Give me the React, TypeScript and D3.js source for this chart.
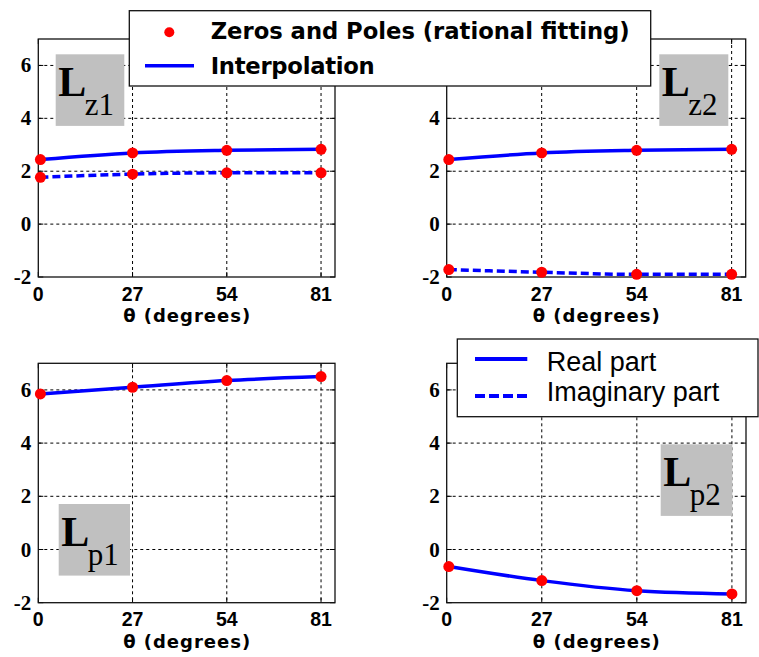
import React from 'react';
import * as d3 from 'd3';

// sample angles (degrees) and the fitted zeros / poles
const theta = [0.6, 27, 54, 81];
const lz1Real = [2.44, 2.69, 2.79, 2.83];
const lz1Imag = [1.77, 1.89, 1.94, 1.94];
const lz2Real = [2.44, 2.69, 2.79, 2.83];
const lz2Imag = [-1.72, -1.82, -1.9, -1.9];
const lp1Real = [5.85, 6.1, 6.35, 6.5];
const lp2Real = [-0.64, -1.17, -1.55, -1.67];

const xTicks = [0, 27, 54, 81];
const yTicks = [-2, 0, 2, 4, 6];
const xDomain = [0, 85];
const yDomain = [-2, 7];

const panels = [
  { name: 'z1', real: lz1Real, imag: lz1Imag, box: [38.3, 39, 335, 277], tag: [55.7, 54.3, 68.6] },
  { name: 'z2', real: lz2Real, imag: lz2Imag, box: [446.7, 39, 745.7, 277], tag: [659.3, 54.3, 69] },
  { name: 'p1', real: lp1Real, imag: null, box: [38.3, 363.3, 335, 602.7], tag: [58.7, 504, 71.3] },
  { name: 'p2', real: lp2Real, imag: null, box: [446.7, 363.3, 746, 602.7], tag: [660.7, 444.3, 71.6] },
];

const BLUE = '#0000ff';
const RED = '#ff0000';
const SANS = '"Liberation Sans", Arial, sans-serif';
const WIDE = '"DejaVu Sans", Verdana, sans-serif';
const SERIF = '"Liberation Serif", "Times New Roman", serif';

const Panel = ({ p }) => {
  const [x0, y0, x1, y1] = p.box;
  const x = d3.scaleLinear().domain(xDomain).range([x0, x1]);
  const y = d3.scaleLinear().domain(yDomain).range([y1, y0]);
  const line = d3.line<number>()
    .x((_, i) => x(theta[i]))
    .y(d => y(d))
    .curve(d3.curveMonotoneX);
  const series = [p.real, p.imag].filter(Boolean);
  return (
    <g>
      {/* grid */}
      {xTicks.filter(t => t > 0).map(t => (
        <line key={'gx' + t} x1={x(t)} x2={x(t)} y1={y0} y2={y1} stroke="#000" strokeWidth={1} strokeDasharray="3,3" />
      ))}
      {yTicks.filter(t => t > -2).map(t => (
        <line key={'gy' + t} x1={x0} x2={x1} y1={y(t)} y2={y(t)} stroke="#000" strokeWidth={1} strokeDasharray="3,3" />
      ))}
      {/* inward ticks on all sides */}
      {xTicks.map(t => (
        <g key={'tx' + t}>
          <line x1={x(t)} x2={x(t)} y1={y1} y2={y1 - 5} stroke="#000" />
          <line x1={x(t)} x2={x(t)} y1={y0} y2={y0 + 5} stroke="#000" />
        </g>
      ))}
      {yTicks.map(t => (
        <g key={'ty' + t}>
          <line x1={x0} x2={x0 + 5} y1={y(t)} y2={y(t)} stroke="#000" />
          <line x1={x1} x2={x1 - 5} y1={y(t)} y2={y(t)} stroke="#000" />
        </g>
      ))}
      <rect x={x0} y={y0} width={x1 - x0} height={y1 - y0} fill="none" stroke="#111" strokeWidth={1.3} />
      {/* tick labels */}
      {xTicks.map(t => (
        <text key={'lx' + t} x={x(t)} y={y1 + 23.5} textAnchor="middle" fontFamily={SANS} fontWeight="bold" fontSize={19.5}>{t}</text>
      ))}
      {yTicks.map(t => (
        <text key={'ly' + t} x={x0 - 7} y={y(t) + 7} textAnchor="end" fontFamily={SERIF} fontWeight="bold" fontSize={21}>{t}</text>
      ))}
      <text x={(x0 + x1) / 2} y={y1 + 45} textAnchor="middle" fontFamily={WIDE} fontWeight="bold" fontSize={18}
        textLength={127} lengthAdjust="spacing">θ (degrees)</text>
      {/* curves */}
      {series.map((s, k) => (
        <path key={'s' + k} d={line(s) || ''} fill="none" stroke={BLUE} strokeWidth={3.5}
          strokeDasharray={k === 1 ? '8,4' : undefined} />
      ))}
      {series.map((s, k) => s.map((v, i) => (
        <circle key={'m' + k + i} cx={x(theta[i])} cy={y(v)} r={5.5} fill={RED} />
      )))}
      {/* gray tag */}
      <rect x={p.tag[0]} y={p.tag[1]} width={p.tag[2]} height={71.6} fill="#c0c0c0" />
      <text x={p.tag[0] + 2.5} y={p.tag[1] + 41.5} fontFamily={SERIF} fontWeight="bold" fontSize={42}>L</text>
      <text x={p.tag[0] + 29} y={p.tag[1] + 60.5} fontFamily={SERIF} fontSize={31}>{p.name}</text>
    </g>
  );
};

export default function App() {
  return (
    <svg width={759} height={657} style={{ position: 'absolute', left: 0, top: 0, background: '#fff' }}>
      <rect width={759} height={657} fill="#fff" />
      {panels.map(p => <Panel key={p.name} p={p} />)}

      {/* legend: markers / interpolation */}
      <rect x={129.3} y={10.7} width={521.4} height={75.3} fill="#fff" stroke="#111" strokeWidth={1.3} />
      <circle cx={169.3} cy={32.3} r={5} fill={RED} />
      <text x={210.7} y={39} fontFamily={WIDE} fontWeight="bold" fontSize={22.7}
        textLength={419} lengthAdjust="spacing">Zeros and Poles (rational fitting)</text>
      <line x1={145} x2={194} y1={65.7} y2={65.7} stroke={BLUE} strokeWidth={3.5} />
      <text x={210.7} y={73.5} fontFamily={WIDE} fontWeight="bold" fontSize={22.7}
        textLength={164} lengthAdjust="spacing">Interpolation</text>

      {/* legend: real / imaginary */}
      <rect x={457.3} y={339} width={300.7} height={77.7} fill="#fff" stroke="#111" strokeWidth={1.3} />
      <line x1={475} x2={527.3} y1={359} y2={359} stroke={BLUE} strokeWidth={4} />
      <text x={546.7} y={371} fontFamily={SANS} fontSize={27}>Real part</text>
      <line x1={475} x2={527.3} y1={396} y2={396} stroke={BLUE} strokeWidth={4} strokeDasharray="10,4" />
      <text x={546.7} y={400.7} fontFamily={SANS} fontSize={27}>Imaginary part</text>
    </svg>
  );
}
